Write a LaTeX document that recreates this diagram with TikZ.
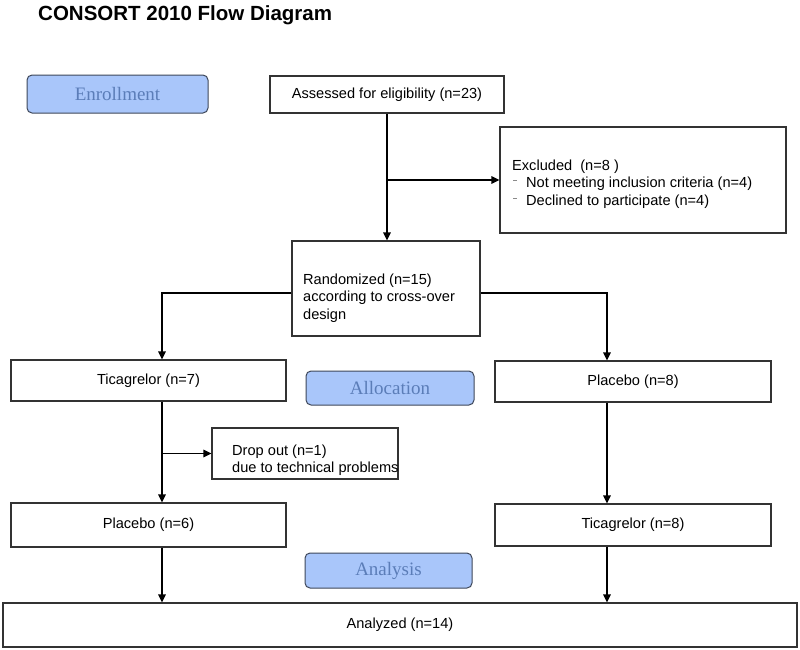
\documentclass[tikz,border=0pt]{standalone}
\usepackage{fontspec}
\setmainfont{Liberation Sans}
\newfontfamily\serifphase{Liberation Serif}
\usetikzlibrary{arrows.meta}
\definecolor{phasefill}{HTML}{A9C6FA}
\definecolor{phasetext}{HTML}{5B7DB8}
\definecolor{phaseline}{HTML}{3E4759}
\definecolor{boxline}{HTML}{333333}
\definecolor{dashgray}{HTML}{8A8A8A}
\newcommand{\exdash}{\hspace*{1pt}\makebox[13pt][l]{\textcolor{dashgray}{\rule[6.5pt]{3.5pt}{0.9pt}}}}
\begin{document}
\begin{tikzpicture}[x=1pt,y=-1pt,
  box/.style={draw=boxline, line width=1.2pt, fill=white, inner sep=0pt, font=\fontsize{14.6}{17.5}\selectfont},
  phase/.style={draw=phaseline, line width=1pt, fill=phasefill, rounded corners=5pt, inner sep=0pt, text=phasetext, font=\serifphase\fontsize{19}{22}\selectfont},
  txt/.style={inner sep=0pt, align=left, anchor=north west, font=\fontsize{14.6}{17.5}\selectfont},
  arr/.style={line width=1.3pt, draw=black, -{Triangle[length=8pt,width=7.5pt]}}
]
\useasboundingbox (0,0) rectangle (800,649);
\fill[white] (0,0) rectangle (800,649);

\node[anchor=base west, inner sep=0pt, font=\bfseries\fontsize{20.5}{24}\selectfont] (title) at (38,20) {CONSORT 2010 Flow Diagram};

% phase labels
\node[phase, minimum width=181, minimum height=38] (enroll) at (117.5,94) {Enrollment};
\node[phase, minimum width=168, minimum height=34] (alloc) at (390,388) {Allocation};
\node[phase, minimum width=167, minimum height=35] (analysis) at (388.5,570.5) {Analysis};

% boxes
\node[box, minimum width=234, minimum height=37] (assess) at (387,94.5) {Assessed for eligibility (n=23)};
\node[box, minimum width=286, minimum height=106] (excl) at (643,180) {};
\node[txt] (excltxt) at (512,159.5) {Excluded~ (n=8~)\\\exdash Not meeting inclusion criteria (n=4)\\\exdash Declined to participate (n=4)};
\node[box, minimum width=188, minimum height=95] (rand) at (386,288.5) {};
\node[txt] (randtxt) at (303,273.3) {Randomized (n=15)\\according to cross-over\\design};

\node[box, minimum width=275, minimum height=41] (tic1) at (148.5,380.5) {Ticagrelor (n=7)};
\node[box, minimum width=276, minimum height=41] (plac1) at (633,381.5) {Placebo (n=8)};
\node[box, minimum width=186, minimum height=51] (drop) at (305,453.5) {};
\node[txt] (droptxt) at (232,444.3) {Drop out (n=1)\\due to technical problems};
\node[box, minimum width=275, minimum height=44] (plac2) at (148.5,525) {Placebo (n=6)};
\node[box, minimum width=276, minimum height=42] (tic2) at (633,525) {Ticagrelor (n=8)};
\node[box, minimum width=794, minimum height=44] (anal) at (400,625) {Analyzed (n=14)};

\coordinate (L) at (162,0);
\coordinate (R) at (607,0);

% connectors
\draw[arr] (assess.south) -- (assess.south |- rand.north);
\draw[arr] (assess.south |- excl.west) -- (excl.west);
\draw[arr] ([yshift=-4.5pt]rand.west) -| (tic1.north -| L);
\draw[arr] ([yshift=-4.5pt]rand.east) -| (plac1.north -| R);
\draw[arr] (tic1.south -| L) -- (plac2.north -| L);
\draw[arr] (drop.west -| L) -- (drop.west);
\draw[arr] (plac1.south -| R) -- (tic2.north -| R);
\draw[arr] (plac2.south -| L) -- (anal.north -| L);
\draw[arr] (tic2.south -| R) -- (anal.north -| R);
\end{tikzpicture}
\end{document}
